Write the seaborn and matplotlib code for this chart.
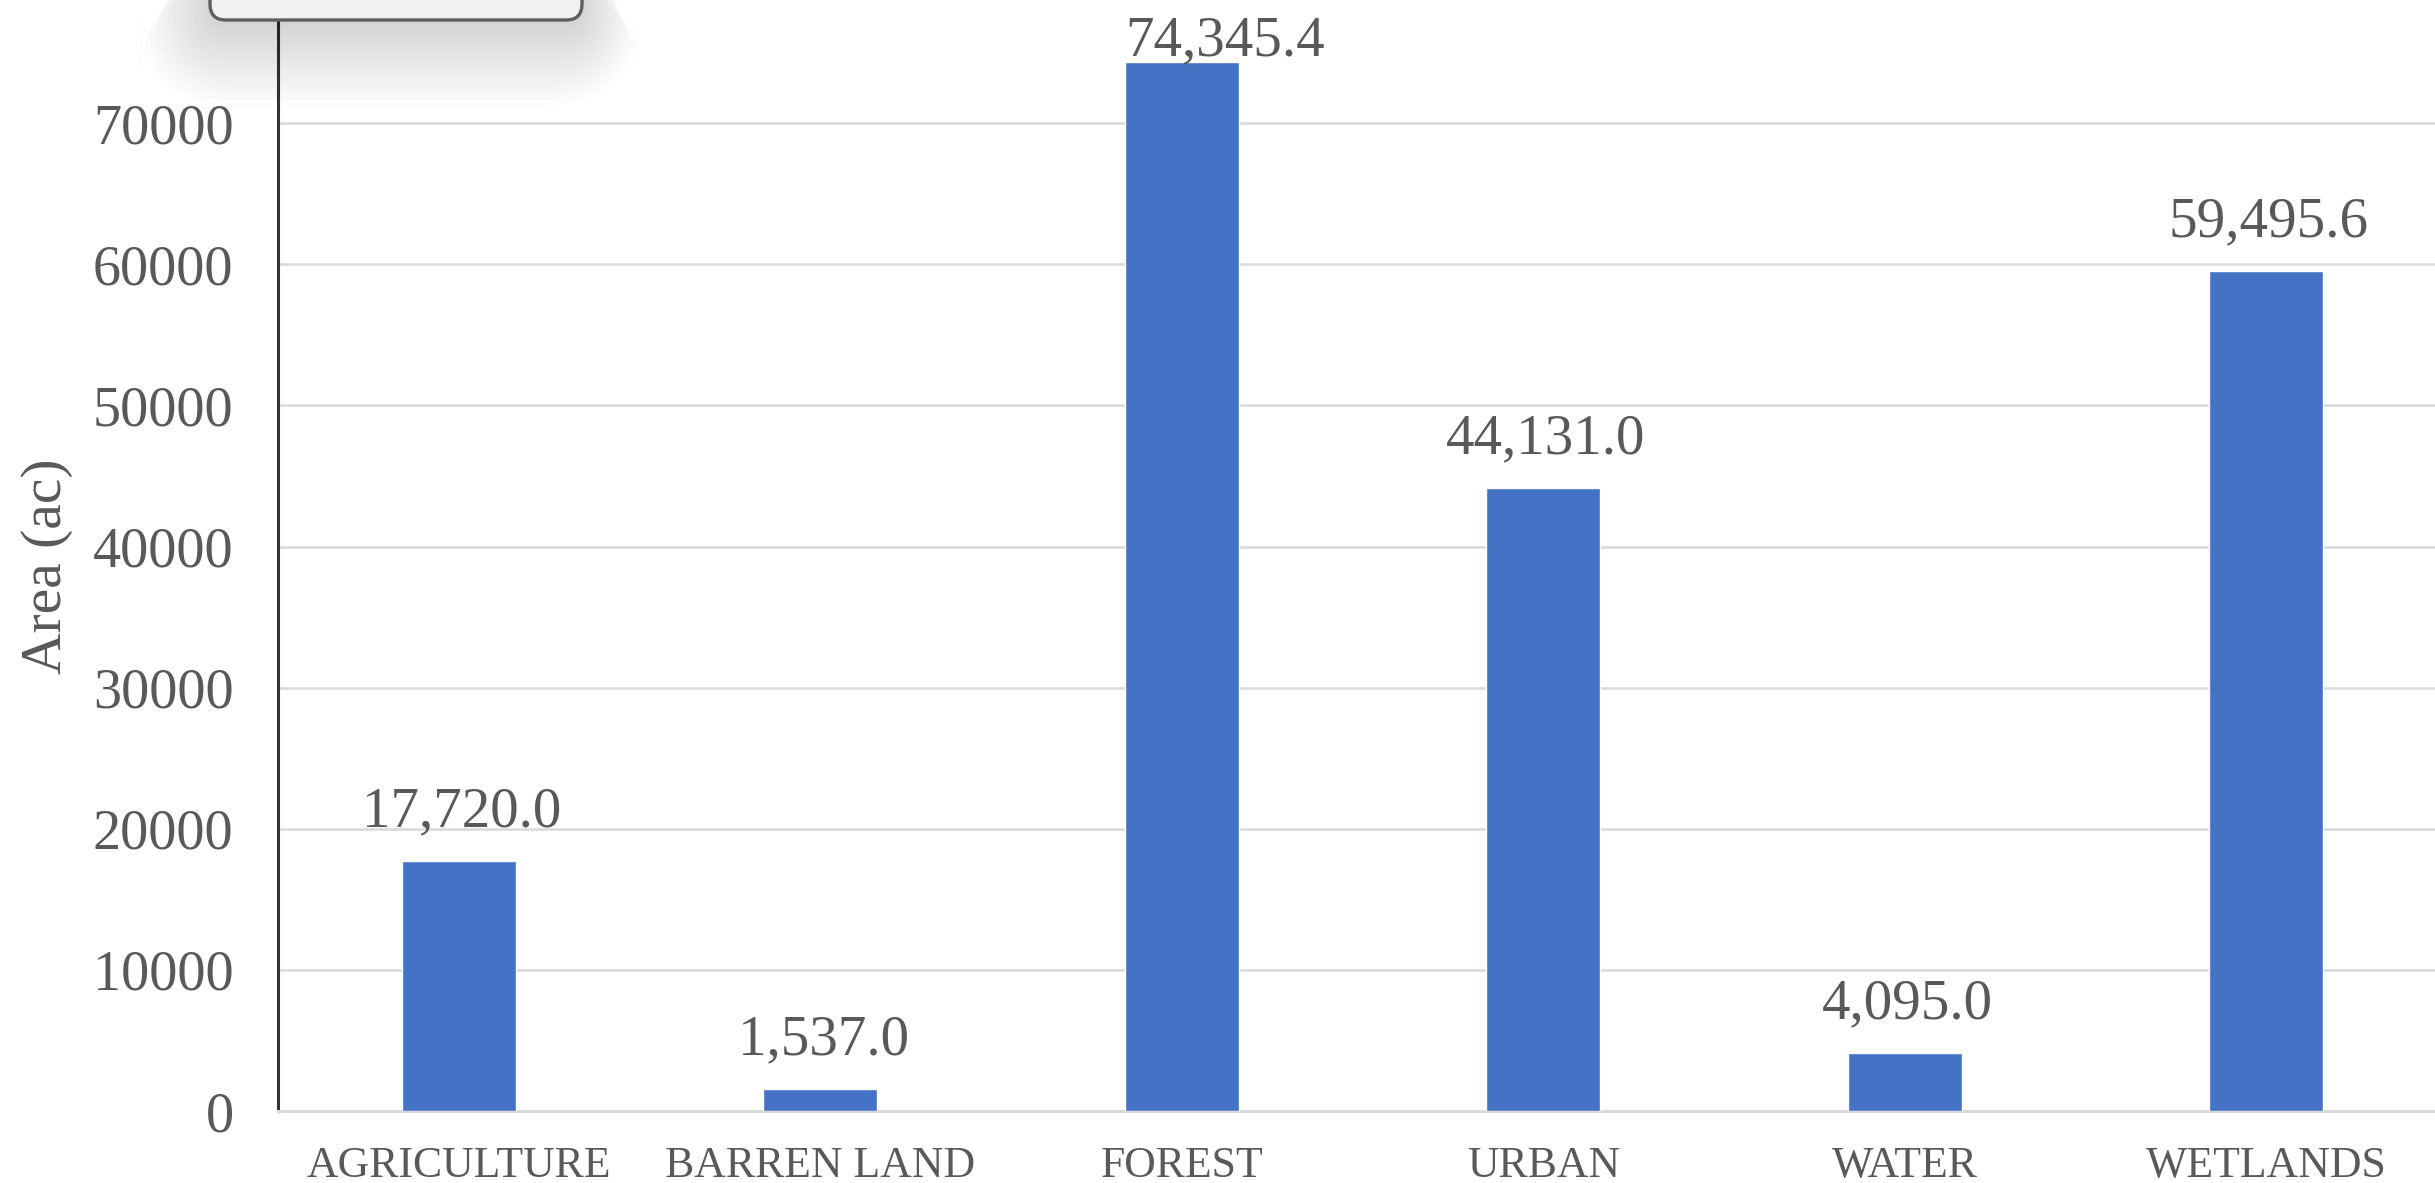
import matplotlib
matplotlib.use("Agg")
import matplotlib.pyplot as plt
import seaborn as sns
import pandas as pd
import numpy as np
from matplotlib.patches import FancyBboxPatch

categories = ["AGRICULTURE", "BARREN LAND", "FOREST", "URBAN", "WATER", "WETLANDS"]
areas = [17720.0, 1537.0, 74345.4, 44131.0, 4095.0, 59495.6]
value_labels = ["17,720.0", "1,537.0", "74,345.4", "44,131.0", "4,095.0", "59,495.6"]
y_ticks = [0, 10000, 20000, 30000, 40000, 50000, 60000, 70000]
y_label = "Area (ac)"

df = pd.DataFrame({"category": categories, "area": areas})

sns.set_theme(style="white")
plt.rcParams["font.family"] = ["Liberation Serif", "DejaVu Serif"]

W, H = 2435, 1183
fig = plt.figure(figsize=(W / 100, H / 100), dpi=100)
ax = fig.add_axes([278 / W, 1 - 1111 / H, 2169 / W, (1111 - 22) / H])

text_color = "#595959"
sns.barplot(data=df, x="category", y="area", color="#4472C4", width=0.316,
            saturation=1, ax=ax, zorder=3)

ax.set_xlim(-0.5, 5.5)
ax.set_ylim(0, 77170)
ax.set_yticks(y_ticks)
ax.set_yticklabels([str(t) for t in y_ticks])
ax.yaxis.grid(True, color="#D9D9D9", linewidth=1.8, zorder=0)
ax.xaxis.grid(False)
ax.tick_params(axis="y", length=0, pad=32, labelsize=40.5, labelcolor=text_color)
ax.tick_params(axis="x", length=0, pad=25, labelsize=31.5, labelcolor=text_color)
ax.set_xlabel("")
ax.set_ylabel(y_label, fontsize=41.5, color=text_color, labelpad=14)

for s in ["top", "right"]:
    ax.spines[s].set_visible(False)
ax.spines["left"].set_color("#333333")
ax.spines["left"].set_linewidth(2.2)
ax.spines["bottom"].set_color("#D9D9D9")
ax.spines["bottom"].set_linewidth(2.2)

for i, (v, lab) in enumerate(zip(areas, value_labels)):
    if i == 2:
        off = (31, 5)
    else:
        off = (2, 25)
    ax.annotate(lab, (i, v), xytext=off, textcoords="offset points",
                ha="center", va="baseline", fontsize=41, color=text_color, zorder=5,
                annotation_clip=False)

# cut-off tooltip/legend box at the top left, with soft shadow
for k in range(14):
    grow = 6 * k
    sh = FancyBboxPatch((210 - grow * 0.9, H - 22 - 6 - grow), 372 + 1.8 * grow * 0.9, 120,
                        boxstyle="round,pad=0,rounding_size=%d" % (20 + grow),
                        transform=None, facecolor="#000000", edgecolor="none",
                        alpha=0.012, zorder=1)
    fig.add_artist(sh)
box = FancyBboxPatch((210, H - 20), 372, 80, boxstyle="round,pad=0,rounding_size=16",
                     transform=None, facecolor="#F2F2F2", edgecolor="#5F5F5F",
                     linewidth=2.4, zorder=10)
fig.add_artist(box)

fig.savefig("out.png", dpi=100)
